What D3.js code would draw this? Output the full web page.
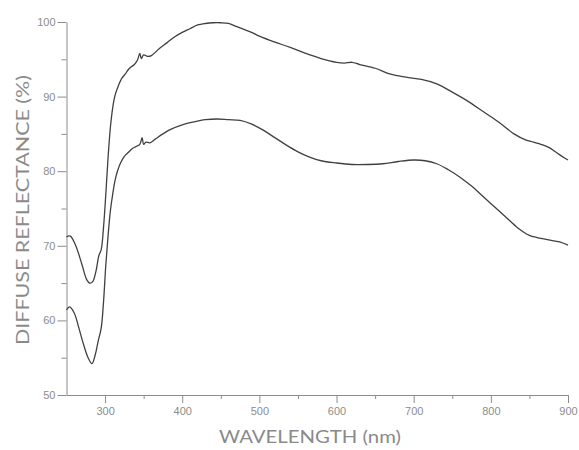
<!DOCTYPE html>
<html>
<head>
<meta charset="utf-8">
<script src="https://cdn.jsdelivr.net/npm/d3@7"></script>
<style>
  body { margin: 0; background: #fff; }
  .axis path, .axis line { stroke: #8c8c8c; }
  .axis text { fill: #8c8c8c; font-family: "Liberation Sans", Arial, sans-serif; font-size: 11px; }
  .title { fill: #8a8a8a; font-family: Lato, "Open Sans", sans-serif; font-size: 18px; }
</style>
</head>
<body>
<svg id="chart" width="579" height="450"></svg>
<script>
// upper curve
const upperWavelength = [250, 255, 262, 270, 276, 280, 284, 288, 292, 295, 298, 301, 304, 307, 310, 313, 317, 322, 326, 330, 334, 338, 342, 345, 347, 350, 355, 360, 370, 380, 390, 400, 410, 420, 430, 440, 450, 460, 470, 480, 490, 500, 520, 540, 560, 580, 600, 610, 620, 630, 650, 670, 690, 710, 730, 750, 770, 790, 810, 830, 845, 855, 865, 875, 885, 895, 900];
const upperReflectance = [71.2, 71.3, 70.0, 67.5, 65.5, 65.0, 65.2, 66.5, 68.7, 69.5, 72.5, 77.0, 82.0, 86.0, 88.6, 90.2, 91.4, 92.5, 93.0, 93.6, 94.0, 94.3, 94.9, 95.8, 95.1, 95.6, 95.4, 95.5, 96.4, 97.2, 98.0, 98.6, 99.1, 99.6, 99.8, 99.9, 99.9, 99.8, 99.4, 99.0, 98.6, 98.1, 97.3, 96.6, 95.8, 95.1, 94.6, 94.5, 94.6, 94.3, 93.8, 93.0, 92.6, 92.3, 91.7, 90.6, 89.4, 88.0, 86.6, 85.0, 84.2, 83.9, 83.6, 83.2, 82.5, 81.8, 81.5];

// lower curve
const lowerWavelength = [250, 254, 260, 266, 272, 278, 283, 287, 291, 295, 298, 301, 304, 307, 310, 313, 316, 320, 325, 330, 335, 340, 345, 348, 350, 353, 358, 365, 375, 385, 400, 415, 430, 445, 460, 475, 490, 505, 520, 535, 550, 565, 580, 600, 620, 640, 660, 680, 700, 715, 730, 745, 760, 775, 790, 805, 820, 835, 850, 860, 870, 880, 890, 900];
const lowerReflectance = [61.4, 61.8, 61.0, 59.0, 56.8, 55.0, 54.2, 55.3, 57.2, 59.0, 62.5, 67.5, 71.5, 74.8, 77.0, 78.8, 80.0, 81.1, 82.0, 82.5, 83.0, 83.3, 83.6, 84.5, 83.6, 83.9, 83.8, 84.3, 85.0, 85.6, 86.2, 86.6, 86.9, 87.0, 86.9, 86.8, 86.3, 85.5, 84.5, 83.5, 82.6, 81.9, 81.4, 81.1, 80.9, 80.9, 81.0, 81.3, 81.5, 81.4, 81.0, 80.2, 79.2, 78.0, 76.6, 75.2, 73.8, 72.4, 71.4, 71.1, 70.9, 70.7, 70.5, 70.1];

const xMajorTicks = [300, 400, 500, 600, 700, 800, 900];
const xMinorTicks = [350, 450, 550, 650, 750, 850];
const yMajorTicks = [50, 60, 70, 80, 90, 100];
const yMinorTicks = [55, 65, 75, 85, 95];

const svg = d3.select('#chart');
const margin = { left: 66.5, right: 11, top: 22, bottom: 55 };
const width = 579 - margin.left - margin.right;
const height = 450 - margin.top - margin.bottom;

const x = d3.scaleLinear().domain([250, 900]).range([0, width]);
const y = d3.scaleLinear().domain([50, 100]).range([height, 0]);

const g = svg.append('g')
  .attr('transform', `translate(${margin.left},${margin.top})`);

// minor ticks first, no labels
g.append('g')
  .attr('class', 'axis')
  .attr('transform', `translate(0,${height})`)
  .call(d3.axisBottom(x).tickValues(xMinorTicks).tickSize(4).tickFormat(''))
  .select('.domain').remove();

g.append('g')
  .attr('class', 'axis')
  .call(d3.axisLeft(y).tickValues(yMinorTicks).tickSize(5).tickFormat(''))
  .select('.domain').remove();

g.append('g')
  .attr('class', 'axis')
  .attr('transform', `translate(0,${height})`)
  .call(d3.axisBottom(x).tickValues(xMajorTicks).tickSize(8).tickSizeOuter(0).tickPadding(4));

g.append('g')
  .attr('class', 'axis')
  .call(d3.axisLeft(y).tickValues(yMajorTicks).tickSize(9).tickSizeOuter(0).tickPadding(2));

const line = d3.line()
  .x(d => x(d[0]))
  .y(d => y(d[1]))
  .curve(d3.curveCatmullRom.alpha(0.5));

const series = [
  d3.zip(upperWavelength, upperReflectance),
  d3.zip(lowerWavelength, lowerReflectance)
];

g.selectAll('.curve')
  .data(series)
  .enter()
    .append('path')
    .classed('curve', true)
    .attr('d', line)
    .style('fill', 'none')
    .style('stroke', '#404040')
    .style('stroke-width', 1.3);

svg.append('text')
  .attr('class', 'title')
  .attr('x', 310)
  .attr('y', 443)
  .attr('text-anchor', 'middle')
  .attr('textLength', 182)
  .attr('lengthAdjust', 'spacingAndGlyphs')
  .text('WAVELENGTH (nm)');

svg.append('text')
  .attr('class', 'title')
  .attr('transform', 'translate(29,210) rotate(-90)')
  .attr('text-anchor', 'middle')
  .attr('textLength', 270)
  .attr('lengthAdjust', 'spacingAndGlyphs')
  .text('DIFFUSE REFLECTANCE (%)');
</script>
</body>
</html>
